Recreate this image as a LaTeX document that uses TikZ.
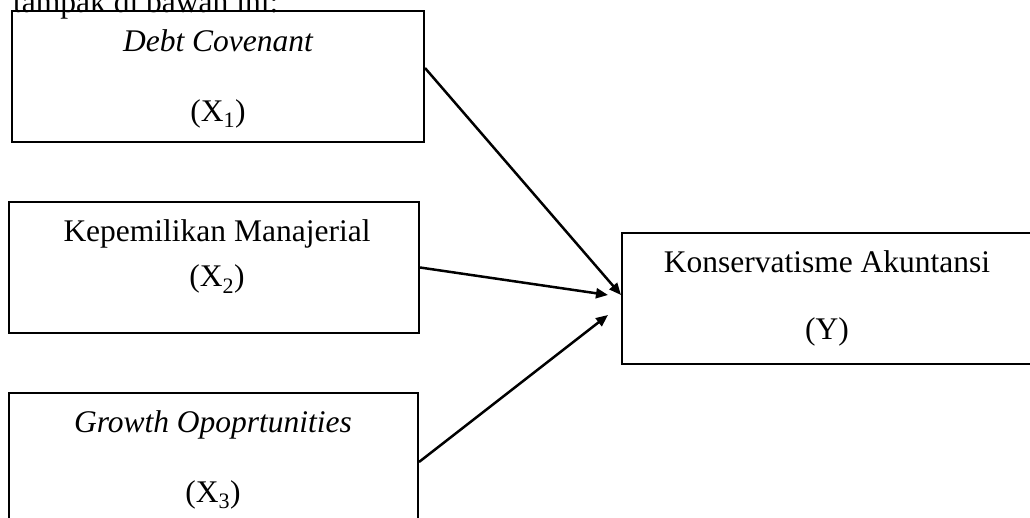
\documentclass[tikz,border=0pt]{standalone}
\usepackage{fontspec}
\setmainfont{Liberation Serif}
\usetikzlibrary{arrows.meta}
\tikzset{
  box/.style={draw, line width=2pt, rectangle, inner sep=0pt},
  lbl/.style={anchor=base, inner sep=0pt, font=\fontsize{31.5}{38}\selectfont},
  arr/.style={line width=2.5pt, -{Triangle[length=12pt,width=10pt]}}
}
\begin{document}
\begin{tikzpicture}[x=1pt,y=-1pt]
\useasboundingbox (0,0) rectangle (1030,518);
\clip (0,0) rectangle (1030,518);
\fill[white] (0,0) rectangle (1030,518);
\node[lbl, anchor=base west] (intro) at (13,13) {tampak di bawah ini:};
\node[box, minimum width=412pt, minimum height=131pt] (b1) at (218,76.5) {};
\node[box, minimum width=410pt, minimum height=131pt] (b2) at (214,267.5) {};
\node[box, minimum width=409pt, minimum height=131pt] (b3) at (213.5,458.5) {};
\node[box, minimum width=410pt, minimum height=131pt] (y) at (827,298.5) {};
\node[lbl] (t1) at (218,52) {\itshape Debt Covenant};
\node[lbl] (s1) at (218,122) {(X\textsubscript{1})};
\node[lbl] (t2) at (217,242) {Kepemilikan Manajerial};
\node[lbl] (s2) at (217,287) {(X\textsubscript{2})};
\node[lbl] (t3) at (213,432) {\itshape Growth Opoprtunities};
\node[lbl] (s3) at (213,502) {(X\textsubscript{3})};
\node[lbl] (ty) at (827,273) {Konservatisme Akuntansi};
\node[lbl] (sy) at (827,340) {(Y)};
\draw[arr] ([yshift=8.5pt]b1.east) -- ([yshift=3.5pt]y.west);
\draw[arr] (b2.east) -- ([xshift=-13pt,yshift=3.5pt]y.west);
\draw[arr] ([yshift=-3.5pt]b3.east) -- ([xshift=-13pt,yshift=-16.5pt]y.west);
\end{tikzpicture}
\end{document}
